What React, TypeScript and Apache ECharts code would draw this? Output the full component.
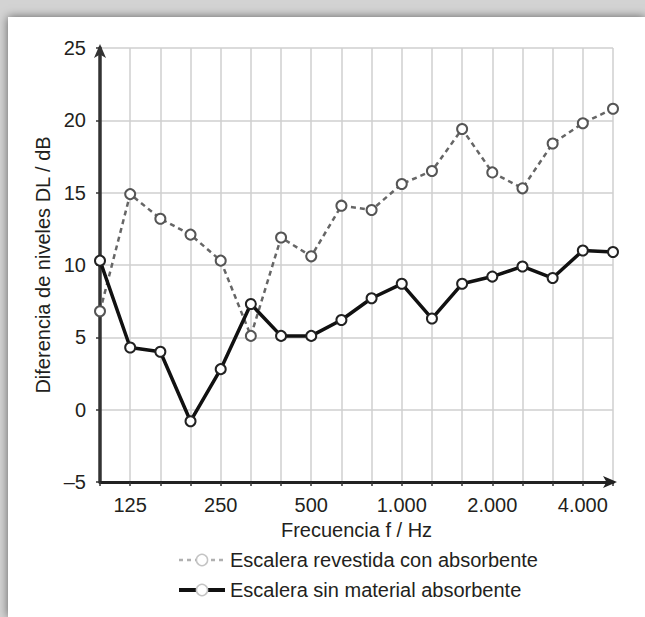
import React, { useEffect, useRef } from "react";
import * as echarts from "echarts";

const bands = ["100", "125", "160", "200", "250", "315", "400", "500", "630", "800", "1.000", "1.250", "1.600", "2.000", "2.500", "3.150", "4.000", "5.000"];
const shownTicks = ["125", "250", "500", "1.000", "2.000", "4.000"];
const conAbsorbente = [6.8, 14.9, 13.2, 12.1, 10.3, 5.1, 11.9, 10.6, 14.1, 13.8, 15.6, 16.5, 19.4, 16.4, 15.3, 18.4, 19.8, 20.8];
const sinAbsorbente = [10.3, 4.3, 4.0, -0.8, 2.8, 7.3, 5.1, 5.1, 6.2, 7.7, 8.7, 6.3, 8.7, 9.2, 9.9, 9.1, 11.0, 10.9];
const nameCon = "Escalera revestida con absorbente";
const nameSin = "Escalera sin material absorbente";
const yMin = -5;
const yMax = 25;
const yStep = 5;

const FONT = "'Liberation Sans', Arial, Helvetica, sans-serif";
const TXT = "#231f20";

export default function App() {
  const ref = useRef<HTMLDivElement>(null);
  useEffect(() => {
    if (!ref.current) return;
    const chart = echarts.init(ref.current, null, { renderer: "svg" });
    chart.setOption({
      animation: false,
      backgroundColor: "#ffffff",
      textStyle: { fontFamily: FONT, color: TXT },
      grid: { left: 92, right: 32, top: 31, bottom: 135, containLabel: false },
      legend: {
        orient: "vertical",
        left: 169,
        top: 533,
        itemWidth: 46,
        itemHeight: 14,
        itemGap: 10,
        padding: 0,
        textStyle: { fontFamily: FONT, fontSize: 20, lineHeight: 20, color: TXT },
        data: [
          { name: nameCon, itemStyle: { color: "#fff", borderColor: "#c4c4c4", borderWidth: 1.5 }, lineStyle: { color: "#b0b0b0", width: 2.5, type: [4, 4] } },
          { name: nameSin, itemStyle: { color: "#fff", borderColor: "#c4c4c4", borderWidth: 1.5 }, lineStyle: { color: "#111", width: 4 } },
        ],
      },
      xAxis: {
        type: "category",
        data: bands,
        boundaryGap: false,
        name: "Frecuencia f / Hz",
        nameLocation: "middle",
        nameGap: 38,
        nameTextStyle: { fontFamily: FONT, fontSize: 20, color: TXT },
        axisLine: { onZero: false, lineStyle: { color: "#222", width: 3 }, symbol: ["none", "arrow"], symbolSize: [9, 14], symbolOffset: [0, 4] },
        axisTick: { show: true, interval: 0, length: 4, lineStyle: { color: "#333", width: 1.5 } },
        axisLabel: {
          interval: (_i: number, v: string) => shownTicks.includes(v),
          margin: 13,
          fontFamily: FONT,
          fontSize: 20,
          color: TXT,
        },
        splitLine: { show: true, interval: 0, lineStyle: { color: "#cfcfcf", width: 1.5 } },
      },
      yAxis: {
        type: "value",
        min: yMin,
        max: yMax,
        interval: yStep,
        name: "Diferencia de niveles DL / dB",
        nameLocation: "middle",
        nameGap: 46,
        nameRotate: 90,
        nameTextStyle: { fontFamily: FONT, fontSize: 20, color: TXT },
        axisLine: { show: true, lineStyle: { color: "#333", width: 3.5 }, symbol: ["none", "arrow"], symbolSize: [9, 14], symbolOffset: [0, 4] },
        axisTick: { show: true, length: 4, lineStyle: { color: "#333", width: 1.5 } },
        axisLabel: {
          margin: 14,
          fontFamily: FONT,
          fontSize: 20,
          color: TXT,
          formatter: (v: number) => (v < 0 ? "\u2013" + Math.abs(v) : String(v)),
        },
        splitLine: { show: true, lineStyle: { color: "#cfcfcf", width: 1.5 } },
      },
      series: [
        {
          name: nameCon,
          type: "line",
          data: conAbsorbente,
          symbol: "circle",
          symbolSize: 10,
          z: 3,
          lineStyle: { color: "#666", width: 2.5, type: [5, 4] },
          itemStyle: { color: "#fff", borderColor: "#555", borderWidth: 2 },
        },
        {
          name: nameSin,
          type: "line",
          data: sinAbsorbente,
          symbol: "circle",
          symbolSize: 10,
          z: 4,
          lineStyle: { color: "#111", width: 3.5 },
          itemStyle: { color: "#fff", borderColor: "#222", borderWidth: 2 },
        },
      ],
    });
    return () => chart.dispose();
  }, []);

  return (
    <div style={{ position: "fixed", left: 0, top: 0, width: 645, height: 617, background: "#d3d3d3", overflow: "hidden" }}>
      <div
        ref={ref}
        style={{ position: "absolute", left: 8, top: 17, width: 637, height: 600, background: "#fff", boxShadow: "0 0 9px rgba(0,0,0,0.55)" }}
      />
    </div>
  );
}
